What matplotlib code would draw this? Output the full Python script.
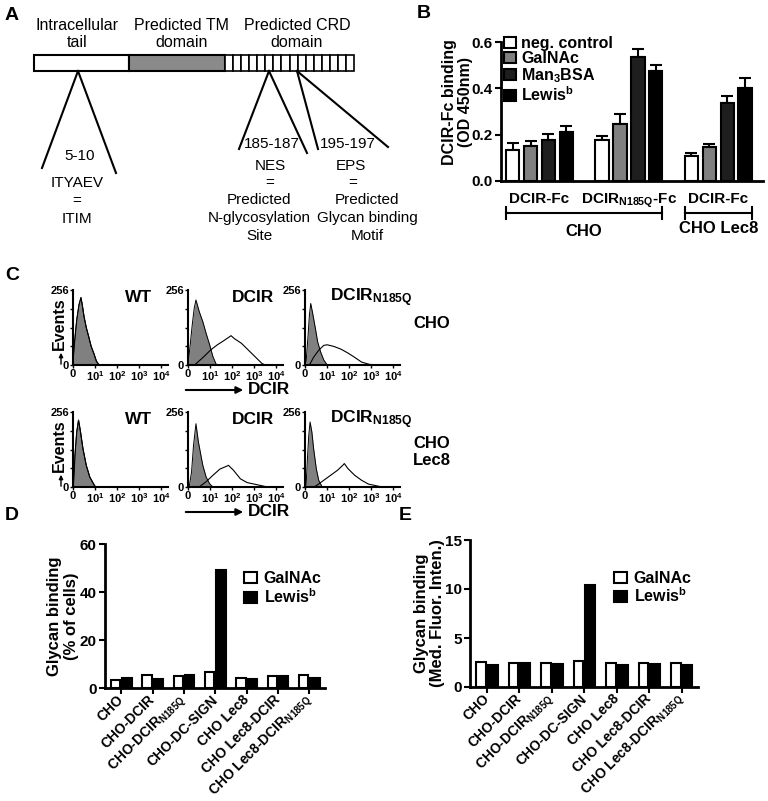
import numpy as np
import matplotlib.pyplot as plt
from matplotlib.patches import Rectangle

plt.rcParams['font.family'] = ['Liberation Sans', 'DejaVu Sans']
plt.rcParams['mathtext.fontset'] = 'custom'
plt.rcParams['mathtext.rm'] = 'Liberation Sans'
plt.rcParams['mathtext.bf'] = 'Liberation Sans:bold'
plt.rcParams['mathtext.it'] = 'Liberation Sans:italic'

W, H = 768, 801

# ---- panel B data: DCIR-Fc binding (OD 450nm)
b_groups = ['DCIR-Fc', r'DCIR$_{\mathbf{N185Q}}$-Fc', 'DCIR-Fc']
b_series = ['neg. control', 'GalNAc', r'Man$_{\mathbf{3}}$BSA', r'Lewis$^{\mathbf{b}}$']
b_colors = ['white', '#808080', '#1e1e1e', 'black']
b_neg = [0.133, 0.176, 0.108]
b_galnac = [0.152, 0.248, 0.145]
b_man3 = [0.179, 0.535, 0.337]
b_lewis = [0.211, 0.473, 0.403]
b_neg_err = [0.032, 0.019, 0.014]
b_galnac_err = [0.020, 0.043, 0.013]
b_man3_err = [0.026, 0.036, 0.030]
b_lewis_err = [0.026, 0.029, 0.042]

# ---- panel C data: flow histograms, (decade, events)
cho_wt_ctrl = [(0.0, 13), (0.07, 77), (0.17, 154), (0.27, 205), (0.36, 230), (0.42, 205),
               (0.5, 165), (0.6, 128), (0.71, 97), (0.82, 64), (0.95, 38), (1.06, 13), (1.18, 0)]
cho_dcir_ctrl = [(0.0, 0), (0.1, 69), (0.19, 136), (0.28, 193), (0.36, 222), (0.51, 182),
                 (0.67, 148), (0.82, 108), (0.98, 69), (1.13, 28), (1.29, 0)]
cho_dcir_stain = [(0.3, 0), (0.71, 28), (1.02, 51), (1.33, 69), (1.64, 84), (1.95, 100),
                  (2.1, 90), (2.42, 74), (2.73, 51), (3.04, 28), (3.35, 5), (3.5, 0)]
cho_nq_ctrl = [(0.0, 0), (0.05, 11), (0.14, 102), (0.2, 171), (0.26, 210), (0.36, 171),
               (0.47, 125), (0.57, 80), (0.7, 46), (0.85, 17), (1.01, 0)]
cho_nq_stain = [(0.2, 0), (0.4, 28), (0.63, 51), (0.85, 67), (1.01, 69), (1.32, 63),
                (1.63, 54), (1.94, 41), (2.25, 26), (2.56, 10), (2.87, 3), (3.1, 0)]
lec8_wt_ctrl = [(0.0, 0), (0.02, 6), (0.09, 108), (0.17, 188), (0.25, 228), (0.33, 193),
                (0.45, 131), (0.6, 74), (0.76, 34), (0.95, 8), (1.02, 0)]
lec8_dcir_ctrl = [(0.05, 0), (0.16, 51), (0.25, 142), (0.36, 216), (0.47, 154), (0.67, 74),
                  (0.82, 34), (0.98, 11), (1.13, 0)]
lec8_dcir_stain = [(0.5, 0), (0.82, 18), (1.13, 40), (1.44, 61), (1.75, 71), (1.83, 74),
                   (2.06, 57), (2.37, 28), (2.68, 15), (2.99, 10), (3.3, 5), (3.6, 0)]
lec8_nq_ctrl = [(0.0, 0), (0.05, 6), (0.11, 97), (0.17, 176), (0.23, 222), (0.31, 188),
                (0.39, 131), (0.51, 63), (0.62, 23), (0.78, 0)]
lec8_nq_stain = [(0.4, 0), (0.54, 6), (0.85, 23), (1.16, 40), (1.47, 57), (1.71, 74), (1.78, 80),
                 (1.94, 63), (2.25, 40), (2.56, 23), (2.87, 10), (3.18, 5), (3.49, 0)]
c_titles = ['WT', 'DCIR', r'DCIR$_{\mathbf{N185Q}}$']
c_xticklabels = ['0', r'$\mathbf{10^1}$', r'$\mathbf{10^2}$', r'$\mathbf{10^3}$', r'$\mathbf{10^4}$']

# ---- panels D and E: glycan binding per cell line
cell_lines = ['CHO', 'CHO-DCIR', r'CHO-DCIR$_{\mathbf{N185Q}}$', 'CHO-DC-SIGN', 'CHO Lec8',
              'CHO Lec8-DCIR', r'CHO Lec8-DCIR$_{\mathbf{N185Q}}$']
d_galnac = [3.5, 5.5, 4.9, 6.7, 4.3, 4.9, 5.5]
d_lewis = [4.3, 3.9, 5.3, 49.2, 3.6, 4.9, 4.3]
e_galnac = [2.57, 2.5, 2.4, 2.68, 2.4, 2.4, 2.5]
e_lewis = [2.29, 2.43, 2.36, 10.4, 2.2, 2.36, 2.29]


def add_ax(l, t, r, b):
    ax = fig.add_axes([l / W, 1 - b / H, (r - l) / W, (b - t) / H])
    ax.set_facecolor('none')
    return ax


def style(ax, lw=2):
    ax.spines['top'].set_visible(False)
    ax.spines['right'].set_visible(False)
    ax.spines['left'].set_linewidth(lw)
    ax.spines['bottom'].set_linewidth(lw)


fig = plt.figure(figsize=(W / 100, H / 100), dpi=100)

# overlay in pixel coordinates for the cartoon and free annotations
ov = fig.add_axes([0, 0, 1, 1])
ov.set_xlim(0, W)
ov.set_ylim(H, 0)
ov.axis('off')

for letter, (lx, ly) in zip('ABCDE', [(12, 15), (424, 13), (12, 275), (12, 516), (405, 516)]):
    ov.text(lx, ly, letter, fontsize=14, fontweight='bold', ha='center', va='center')

# ---------------- A
fa = 11
ov.add_patch(Rectangle((34, 55), 95, 16, fc='white', ec='black', lw=1.5))
ov.add_patch(Rectangle((129, 55), 96, 16, fc='#8a8a8a', ec='black', lw=1.5))
n_cells = 16
cw = (354 - 225) / n_cells
for k in range(n_cells):
    ov.add_patch(Rectangle((225 + k * cw, 55), cw, 16, fc='white', ec='black', lw=1.2))
for x, txt in [(77, 'Intracellular\ntail'), (182, 'Predicted TM\ndomain'), (297, 'Predicted CRD\ndomain')]:
    ov.text(x, 34, txt, fontsize=11.5, ha='center', va='center', linespacing=1.2)
for apex, ends in [((78, 71), [(42, 168), (116, 173)]),
                   ((269, 71), [(239, 149), (307, 153)]),
                   ((297, 71), [(318, 149), (388, 147)])]:
    for e in ends:
        ov.plot([apex[0], e[0]], [apex[1], e[1]], color='black', lw=1.5)
ov.text(80, 156, '5-10', fontsize=fa, ha='center', va='center')
ov.text(77, 201, 'ITYAEV\n=\nITIM', fontsize=fa, ha='center', va='center', linespacing=1.35)
ov.text(272, 144, '185-187', fontsize=fa, ha='center', va='center')
ov.text(348, 144, '195-197', fontsize=fa, ha='center', va='center')
ov.text(270, 166, 'NES', fontsize=fa, ha='center', va='center')
ov.text(270, 183, '=', fontsize=fa, ha='center', va='center')
ov.text(259, 218, 'Predicted\nN-glycosylation\nSite', fontsize=fa, ha='center',
        va='center', linespacing=1.35)
ov.text(351, 166, 'EPS', fontsize=fa, ha='center', va='center')
ov.text(353, 183, '=', fontsize=fa, ha='center', va='center')
ov.text(367, 218, 'Predicted\nGlycan binding\nMotif', fontsize=fa, ha='center', va='center',
        linespacing=1.35)

# ---------------- B
axb = add_ax(501, 42, 763, 181)
style(axb)
xb = np.arange(len(b_groups))
vals = [b_neg, b_galnac, b_man3, b_lewis]
errs = [b_neg_err, b_galnac_err, b_man3_err, b_lewis_err]
for i in range(4):
    xs = xb + (i - 1.5) * 0.2
    axb.bar(xs, vals[i], width=0.15, color=b_colors[i], edgecolor='black', lw=1.5,
            label=b_series[i], zorder=2)
    axb.errorbar(xs, vals[i], yerr=[np.zeros(3), errs[i]], fmt='none', ecolor='black',
                 elinewidth=1.5, capsize=4, capthick=1.5, zorder=1)
axb.set_xlim(-0.43, 2.5)
axb.set_ylim(0, 0.6)
axb.set_yticks([0, 0.2, 0.4, 0.6])
axb.set_yticklabels(['0.0', '0.2', '0.4', '0.6'])
axb.set_xticks(xb)
axb.set_xticklabels(b_groups)
axb.tick_params(axis='x', length=0, pad=8)
axb.tick_params(axis='y', length=4, width=1.5, pad=2)
for lab in axb.get_xticklabels() + axb.get_yticklabels():
    lab.set_fontweight('bold')
    lab.set_fontsize(11)
axb.set_ylabel('DCIR-Fc binding\n(OD 450nm)', fontsize=11.5, fontweight='bold', linespacing=1.1)
axb.yaxis.set_label_coords(-0.105, 0.57)
axb.legend(loc='upper left', bbox_to_anchor=(0.01, 1.04), frameon=False, handlelength=0.8,
           handleheight=0.7, handletextpad=0.3, labelspacing=0.0, borderaxespad=0,
           borderpad=0, prop={'weight': 'bold', 'size': 11.5})
tr = axb.get_xaxis_transform()
for x0, x1, lab, ty in [(-0.375, 1.375, 'CHO', -0.36), (1.625, 2.375, 'CHO Lec8', -0.34)]:
    axb.plot([x0, x1], [-0.23, -0.23], color='black', lw=1.5, transform=tr, clip_on=False)
    for xe in (x0, x1):
        axb.plot([xe, xe], [-0.19, -0.27], color='black', lw=1.5, transform=tr, clip_on=False)
    axb.text((x0 + x1) / 2, ty, lab, transform=tr, ha='center', va='center', fontsize=12,
             fontweight='bold')

# ---------------- C
rows = [(290, 365, [cho_wt_ctrl, cho_dcir_ctrl, cho_nq_ctrl], [cho_wt_ctrl, cho_dcir_stain, cho_nq_stain]),
        (412, 487, [lec8_wt_ctrl, lec8_dcir_ctrl, lec8_nq_ctrl], [lec8_wt_ctrl, lec8_dcir_stain, lec8_nq_stain])]
col_left = [73, 188, 305]
title_x = [0.55, 0.46, 0.26]
for top, bot, ctrls, stains in rows:
    for j in range(3):
        ax = add_ax(col_left[j], top, col_left[j] + 95, bot)
        style(ax, lw=1.5)
        cx, cy = zip(*ctrls[j])
        ax.fill_between(cx, cy, color='#808080', lw=0)
        ax.plot(cx, cy, color='black', lw=0.7)
        sx, sy = zip(*stains[j])
        ax.plot(sx, sy, color='black', lw=0.8)
        ax.set_xlim(0, 4.3)
        ax.set_ylim(0, 256)
        ax.set_xticks([0, 1, 2, 3, 4])
        ax.set_xticklabels(c_xticklabels)
        ax.set_yticks([0, 64, 128, 192, 256])
        ax.set_yticklabels(['0', '', '', '', '256'])
        ax.tick_params(length=2, width=1, pad=1, labelsize=8)
        for lab in ax.get_xticklabels() + ax.get_yticklabels():
            lab.set_fontweight('bold')
        ax.text(title_x[j], 0.9, c_titles[j], transform=ax.transAxes, ha='left', va='center',
                fontsize=12.5, fontweight='bold')
    ov.text(59, top + 34, 'Events', rotation=90, ha='center', va='center',
            fontsize=11.5, fontweight='bold')
    ov.annotate('', xy=(61, bot - 15), xytext=(61, bot + 2),
                arrowprops=dict(arrowstyle='-|>', color='black', lw=1, mutation_scale=6))
    ov.annotate('', xy=(246, bot + 25), xytext=(183, bot + 25),
                arrowprops=dict(arrowstyle='-|>', color='black', lw=1.5, mutation_scale=10))
    ov.text(248, bot + 25, 'DCIR', ha='left', va='center', fontsize=12.5, fontweight='bold')
ov.text(432, 323, 'CHO', ha='center', va='center', fontsize=12, fontweight='bold')
ov.text(432, 452, 'CHO\nLec8', ha='center', va='center', fontsize=12, fontweight='bold',
        linespacing=1.2)


# ---------------- D and E
def glycan_panel(ax, galnac, lewis, ymax, step, ylabel, lab_x, leg_y):
    style(ax)
    x = np.arange(len(cell_lines))
    ax.bar(x - 0.18, galnac, width=0.3, color='white', edgecolor='black', lw=1.5, label='GalNAc')
    ax.bar(x + 0.18, lewis, width=0.3, color='black', edgecolor='black', lw=1.5,
           label=r'Lewis$^{\mathbf{b}}$')
    ax.set_xlim(-0.52, 6.5)
    ax.set_ylim(0, ymax)
    ax.set_yticks(np.arange(0, ymax + 1, step))
    ax.set_xticks(x)
    ax.set_xticklabels(cell_lines, rotation=45, ha='right', va='center', rotation_mode='anchor')
    ax.tick_params(axis='x', length=4, width=1.5, pad=3)
    ax.tick_params(axis='y', length=4, width=1.5, pad=2)
    for lab in ax.get_xticklabels():
        lab.set_fontweight('bold')
        lab.set_fontsize(10)
    for lab in ax.get_yticklabels():
        lab.set_fontweight('bold')
        lab.set_fontsize(11)
    ax.set_ylabel(ylabel, fontsize=12, fontweight='bold', linespacing=1.1)
    ax.yaxis.set_label_coords(lab_x, 0.5)
    ax.legend(loc='upper left', bbox_to_anchor=(0.63, leg_y), frameon=False, handlelength=0.85,
              handleheight=0.7, handletextpad=0.4, labelspacing=0.05, borderaxespad=0,
              borderpad=0, prop={'weight': 'bold', 'size': 11.5})


axd = add_ax(105, 544, 325, 688)
glycan_panel(axd, d_galnac, d_lewis, 60, 20, 'Glycan binding\n(% of cells)', -0.12, 0.81)
axe = add_ax(470, 540, 698, 687)
glycan_panel(axe, e_galnac, e_lewis, 15, 5, 'Glycan binding\n(Med. Fluor. Inten.)', -0.11, 0.79)

fig.savefig('out.png', dpi=100)
